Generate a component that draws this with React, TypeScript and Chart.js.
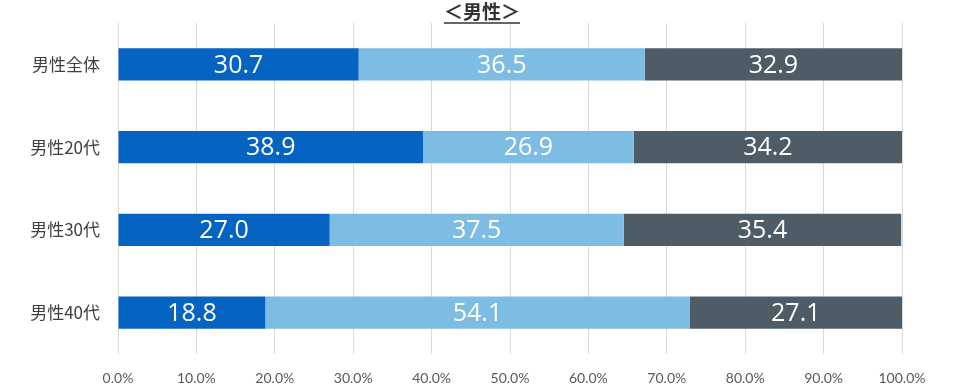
import React, { useEffect, useRef } from "react";
import { Chart, registerables } from "chart.js";

Chart.register(...registerables);

const titleText = "＜男性＞";
const categories = ["男性全体", "男性20代", "男性30代", "男性40代"];
const seriesA = [30.7, 38.9, 27.0, 18.8];
const seriesB = [36.5, 26.9, 37.5, 54.1];
const seriesC = [32.9, 34.2, 35.4, 27.1];
const seriesColors = ["#0563c1", "#7dbde4", "#4e5c68"];
const xTicks = [0, 10, 20, 30, 40, 50, 60, 70, 80, 90, 100];

const titlePlugin = {
  id: "titleUnderline",
  afterDraw(chart: any) {
    const ctx = chart.ctx;
    ctx.save();
    ctx.font = "bold 19px 'Noto Sans CJK JP'";
    ctx.fillStyle = "#333333";
    ctx.textAlign = "center";
    ctx.textBaseline = "middle";
    const cx = 482;
    ctx.fillText(titleText, cx, 12);
    const w = ctx.measureText(titleText).width;
    ctx.strokeStyle = "#333333";
    ctx.lineWidth = 1.5;
    ctx.beginPath();
    ctx.moveTo(cx - w / 2, 23);
    ctx.lineTo(cx + w / 2, 23);
    ctx.stroke();
    ctx.restore();
  },
};

const labelPlugin = {
  id: "segLabels",
  afterDatasetsDraw(chart: any) {
    const ctx = chart.ctx;
    ctx.save();
    ctx.font = "25px 'Open Sans'";
    ctx.fillStyle = "#ffffff";
    ctx.textAlign = "center";
    ctx.textBaseline = "middle";
    chart.data.datasets.forEach((ds: any, i: number) => {
      const meta = chart.getDatasetMeta(i);
      meta.data.forEach((el: any, j: number) => {
        const left = Math.min(el.base, el.x);
        const right = Math.min(Math.max(el.base, el.x), chart.chartArea.right);
        const v = ds.data[j] as number;
        ctx.fillText(v.toFixed(1), (left + right) / 2, el.y + 1);
      });
    });
    ctx.restore();
  },
};

export default function App() {
  const ref = useRef<HTMLCanvasElement | null>(null);
  useEffect(() => {
    if (!ref.current) return;
    const chart = new Chart(ref.current, {
      type: "bar",
      data: {
        labels: categories,
        datasets: [seriesA, seriesB, seriesC].map((d, i) => ({
          data: d,
          backgroundColor: seriesColors[i],
          borderWidth: 0,
          barPercentage: 0.39,
          categoryPercentage: 1,
        })),
      },
      options: {
        indexAxis: "y",
        animation: false,
        responsive: false,
        maintainAspectRatio: false,
        layout: { padding: { top: 23, right: 58, left: 0, bottom: 0 } },
        plugins: {
          legend: { display: false },
          tooltip: { enabled: false },
          title: { display: false },
        },
        scales: {
          x: {
            stacked: true,
            min: 0,
            max: 100,
            afterBuildTicks: (s: any) => {
              s.ticks = xTicks.map((v) => ({ value: v }));
            },
            afterFit: (s: any) => {
              s.height = 37;
              s.paddingLeft = 0;
              s.paddingRight = 0;
            },
            grid: { color: "#d9d9d9", drawTicks: false, lineWidth: 1 },
            border: { display: false },
            ticks: {
              padding: 16,
              color: "#595959",
              font: { family: "Lato", size: 14 },
              maxRotation: 0,
              callback: (v: any) => Number(v).toFixed(1) + "%",
            },
          },
          y: {
            stacked: true,
            afterFit: (s: any) => {
              s.width = 118;
              s.paddingTop = 0;
              s.paddingBottom = 0;
            },
            grid: { display: false },
            border: { display: false },
            ticks: {
              padding: 10,
              color: "#404040",
              font: { family: "'Noto Sans CJK JP'", size: 17 },
            },
          },
        },
      },
      plugins: [titlePlugin, labelPlugin],
    });
    return () => chart.destroy();
  }, []);
  return (
    <div style={{ position: "fixed", left: 0, top: 0, width: 960, height: 391, background: "#fff" }}>
      <canvas ref={ref} width={960} height={391} style={{ display: "block" }} />
    </div>
  );
}
